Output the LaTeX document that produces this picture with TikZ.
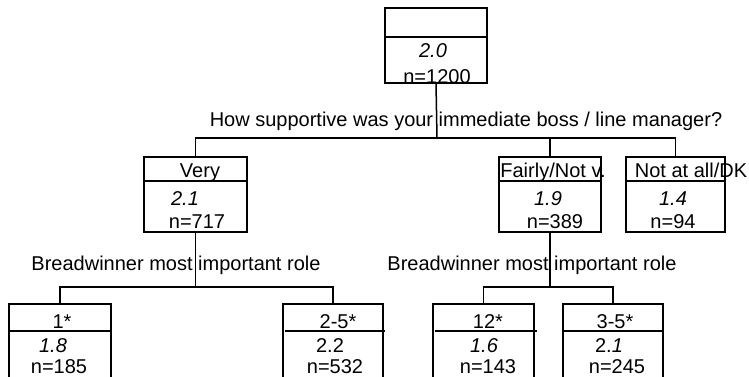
\documentclass[tikz,border=0pt]{standalone}
\usepackage{fontspec}
\setmainfont{Liberation Sans}
\begin{document}
\begin{tikzpicture}[x=1pt,y=-1pt,
  boxst/.style={draw, line width=1.5pt, rectangle, inner sep=0pt, outer sep=0pt, anchor=north west},
  lab/.style={font=\fontsize{20}{22}\selectfont, inner sep=0pt, anchor=base},
  ln/.style={line width=1.5pt}]
\useasboundingbox (0,0) rectangle (749,376);
\clip (0,0) rectangle (749,376);
% boxes
\node[boxst, minimum width=102pt, minimum height=75pt] (root) at (385,8) {};
\node[boxst, minimum width=103pt, minimum height=75pt] (very) at (144,157) {};
\node[boxst, minimum width=102pt, minimum height=75pt] (fairly) at (499,157) {};
\node[boxst, minimum width=99pt, minimum height=75pt] (notall) at (626,157) {};
\node[boxst, minimum width=102pt, minimum height=100pt] (b1) at (9,304) {};
\node[boxst, minimum width=100pt, minimum height=100pt] (b25) at (283,304) {};
\node[boxst, minimum width=101pt, minimum height=100pt] (b12) at (433,304) {};
\node[boxst, minimum width=100pt, minimum height=100pt] (b35) at (563,304) {};
% dividers
\draw[ln] (root.west |- 0,37) -- (root.east |- 0,37);
\draw[ln] (very.west |- 0,181) -- (very.east |- 0,181);
\draw[ln] (fairly.west |- 0,181) -- (fairly.east |- 0,181);
\draw[ln] (notall.west |- 0,181) -- (notall.east |- 0,181);
\draw[ln] (b1.west |- 0,331) -- (b1.east |- 0,331);
\draw[ln] (285,331) -- (385,331);
\draw[ln] (435,331) -- (537,331);
\draw[ln] (b35.west |- 0,331) -- (b35.east |- 0,331);
% labels
\node[lab] (rootm) at (433,57) {\itshape 2.0};
\node[lab] (rootn) at (437,83) {n=1200};
\node[lab] (q1) at (466,126) {How supportive was your immediate boss / line manager?};
\node[lab] (veryh) at (200,177) {Very};
\node[lab] (verym) at (185,205) {\itshape 2.1};
\node[lab] (veryn) at (197,228) {n=717};
\node[lab] (fairlyh) at (553,177) {Fairly/Not v.};
\node[lab] (fairlym) at (548,205) {\itshape 1.9};
\node[lab] (fairlyn) at (555,228) {n=389};
\node[lab] (notallh) at (691,177) {Not at all/DK};
\node[lab] (notallm) at (673,205) {\itshape 1.4};
\node[lab] (notalln) at (673,228) {n=94};
\node[lab] (q2) at (176,270) {Breadwinner most important role};
\node[lab] (q3) at (532,270) {Breadwinner most important role};
\node[lab] (b1h) at (62,328) {1*};
\node[lab] (b1m) at (53,352) {\itshape 1.8};
\node[lab] (b1n) at (59,373) {n=185};
\node[lab] (b25h) at (338,328) {2-5*};
\node[lab] (b25m) at (330,352) {2.2};
\node[lab] (b25n) at (335,373) {n=532};
\node[lab] (b12h) at (488,328) {12*};
\node[lab] (b12m) at (484,352) {\itshape 1.6};
\node[lab] (b12n) at (488,373) {n=143};
\node[lab] (b35h) at (615,328) {3-5*};
\node[lab] (b35m) at (609,352) {2.\textit{1}};
\node[lab] (b35n) at (617,373) {n=245};
% connectors
\coordinate (j1) at (437,138);
\coordinate (j2) at (196,287);
\coordinate (j3) at (549,287);
\draw[ln] (root.south) -- (j1);
\draw[ln] (very.north) |- (j1);
\draw[ln] (notall.north) |- (j1);
\draw[ln] (fairly.north) -- (fairly.north |- j1);
\draw[ln] (very.south) -- (very.south |- j2);
\draw[ln] (b1.north) |- (j2);
\draw[ln] (b25.north) |- (j2);
\draw[ln] (fairly.south) -- (fairly.south |- j3);
\draw[ln] (b12.north) |- (j3);
\draw[ln] (b35.north) |- (j3);
\end{tikzpicture}
\end{document}
